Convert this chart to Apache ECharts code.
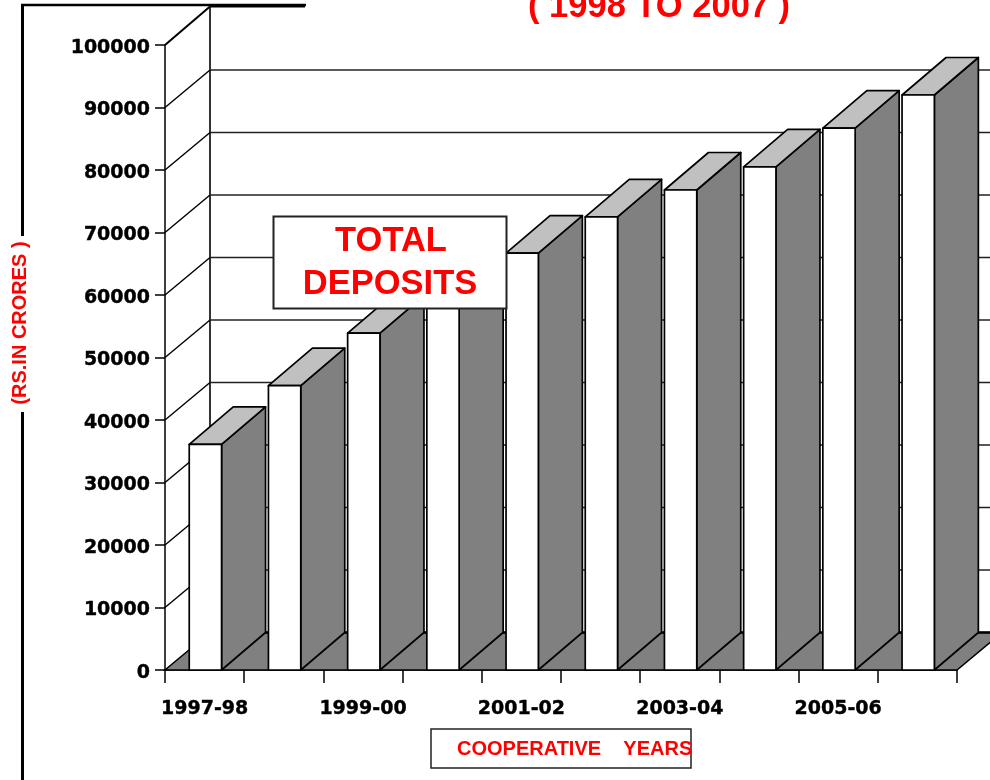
<!DOCTYPE html>
<html>
<head>
<meta charset="utf-8">
<style>html,body{margin:0;padding:0;background:#fff}#c{width:990px;height:780px}</style>
<script src="https://cdn.jsdelivr.net/npm/echarts@6/dist/echarts.min.js"></script>
</head>
<body>
<div id="c"></div>
<script>
const categories = ['1997-98','1998-99','1999-00','2000-01','2001-02','2002-03','2003-04','2004-05','2005-06','2006-07'];
const deposits = [36100,45500,53900,60000,66700,72500,76800,80500,86700,92000];
const yTicks = [10000,20000,30000,40000,50000,60000,70000,80000,90000];
const DX = 45, DY = 37.5;
const chart = echarts.init(document.getElementById('c'), null, {renderer:'canvas', width:990, height:780});
const RED = '#ff0000';
const line = (x1,y1,x2,y2,w,c) => ({type:'line',shape:{x1,y1,x2,y2},style:{stroke:c||'#000',lineWidth:w||1}});

chart.setOption({
  animation:false,
  backgroundColor:'#fff',
  title:{text:'( 1998 TO 2007 )',left:528,top:-10,padding:0,
    textStyle:{color:RED,fontFamily:'Liberation Sans',fontWeight:'bold',fontSize:34.5}},
  grid:{left:165,top:45,width:792,height:625,containLabel:false},
  xAxis:{type:'category',data:categories,
    axisLine:{show:true,lineStyle:{color:'#000',width:1.5}},
    axisTick:{show:true,length:13,alignWithLabel:false,interval:0,lineStyle:{color:'#000',width:1.5}},
    axisLabel:{interval:1,margin:30,color:'#000',fontFamily:'DejaVu Sans',fontWeight:'bold',fontSize:19,
      textBorderColor:'#000',textBorderWidth:0.4},
    splitLine:{show:false}},
  yAxis:{type:'value',min:0,max:100000,interval:10000,
    axisLine:{show:true,lineStyle:{color:'#000',width:1.5}},
    axisTick:{show:true,length:10,lineStyle:{color:'#000',width:1.5}},
    axisLabel:{margin:15,color:'#000',fontFamily:'DejaVu Sans',fontWeight:'bold',fontSize:19,
      textBorderColor:'#000',textBorderWidth:0.4,
      verticalAlign:'top',lineHeight:6,formatter:v=>String(v)},
    splitLine:{show:false}},
  series:[
    {type:'custom',z:1,silent:true,clip:false,coordinateSystem:'cartesian2d',
     data:[[0,0]],
     renderItem(p,api){
       const r=p.coordSys, y0=r.y+r.height, x0=r.x, xr=r.x+r.width;
       return {type:'group',children:[
         {type:'polygon',shape:{points:[[x0,y0],[xr,y0],[xr+DX,y0-DY],[x0+DX,y0-DY]]},
          style:{fill:'#808080',stroke:'#000',lineWidth:1.5}},
         line(x0+DX,y0-DY,990,y0-DY,2.4),
         line(x0+DX,r.y-DY-1,x0+DX,y0-DY,1.6),
         line(x0,r.y,x0+DX,r.y-DY-1,2),
         line(x0+DX,r.y-DY-1,305,r.y-DY-1,2)
       ]};
     }},
    {type:'custom',z:1,silent:true,clip:false,coordinateSystem:'cartesian2d',
     data:yTicks.map(v=>[0,v]),
     renderItem(p,api){
       const r=p.coordSys, y=api.coord([0,api.value(1)])[1];
       return {type:'group',children:[
         line(r.x,y,r.x+DX,y-DY,1.4),
         line(r.x+DX,y-DY,990,y-DY,1.6,'#222')
       ]};
     }},
    {type:'custom',z:3,silent:true,clip:false,coordinateSystem:'cartesian2d',
     data:deposits.map((v,i)=>[i,v]),
     renderItem(p,api){
       const c=api.coord([api.value(0),api.value(1)]), b=api.coord([api.value(0),0]);
       const w=api.size([1,0])[0]*0.408, xl=c[0]+0.8-w/2, xr=xl+w, yt=c[1], yb=b[1];
       const st=f=>({fill:f,stroke:'#000',lineWidth:1.7,lineJoin:'round'});
       return {type:'group',children:[
         {type:'polygon',shape:{points:[[xr,yt],[xr+44,yt-DY],[xr+44,yb-DY],[xr,yb]]},style:st('#808080')},
         {type:'polygon',shape:{points:[[xl,yt],[xl+44,yt-DY],[xr+44,yt-DY],[xr,yt]]},style:st('#c0c0c0')},
         {type:'rect',shape:{x:xl,y:yt,width:w,height:yb-yt},style:st('#ffffff')}
       ]};
     }}
  ],
  graphic:[
    {type:'line',z:50,shape:{x1:22.5,y1:5,x2:22.5,y2:236},style:{stroke:'#000',lineWidth:3}},
    {type:'line',z:50,shape:{x1:22.5,y1:412,x2:22.5,y2:780},style:{stroke:'#000',lineWidth:3}},
    {type:'line',z:50,shape:{x1:21,y1:5,x2:306,y2:5},style:{stroke:'#000',lineWidth:2.5}},
    {type:'rect',z:60,shape:{x:273.5,y:216.5,width:233,height:92},style:{fill:'#fff',stroke:'#222',lineWidth:2}},
    {type:'text',z:61,x:391,y:241,style:{text:'TOTAL',fill:RED,font:'bold 34.5px "Liberation Sans"',align:'center',verticalAlign:'middle'}},
    {type:'text',z:61,x:390,y:284,style:{text:'DEPOSITS',fill:RED,font:'bold 34.5px "Liberation Sans"',align:'center',verticalAlign:'middle'}},
    {type:'text',z:61,x:20,y:323,rotation:Math.PI/2,style:{text:'(RS.IN CRORES )',fill:RED,font:'bold 20px "Liberation Sans"',align:'center',verticalAlign:'middle'}},
    {type:'rect',z:60,shape:{x:431,y:729,width:260,height:39},style:{fill:'#fff',stroke:'#222',lineWidth:1.5}},
    {type:'text',z:61,x:457,y:749,style:{text:'COOPERATIVE    YEARS',fill:RED,font:'bold 20px "Liberation Sans"',align:'left',verticalAlign:'middle'}}
  ]
});
</script>
</body>
</html>
